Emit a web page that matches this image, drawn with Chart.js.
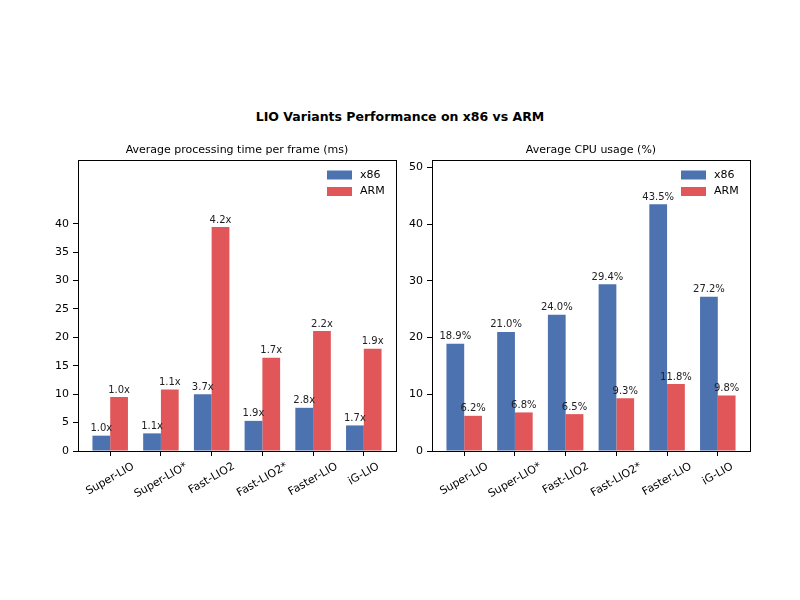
<!DOCTYPE html>
<html>
<head>
<meta charset="utf-8">
<script src="https://cdn.jsdelivr.net/npm/chart.js@4.4.1/dist/chart.umd.min.js"></script>
<style>
  body { margin: 0; background: #fff; }
  #wrap { position: relative; width: 800px; height: 600px; font-family: 'DejaVu Sans', sans-serif; }
  #mainTitle { position: absolute; left: 0; top: 109px; width: 800px; text-align: center; font-weight: bold; font-size: 12.5px; color: #000; }
  #left { position: absolute; left: 0; top: 0; }
  #right { position: absolute; left: 405px; top: 0; }
</style>
</head>
<body>
<div id="wrap">
  <div id="mainTitle">LIO Variants Performance on x86 vs ARM</div>
  <canvas id="left" width="405" height="600"></canvas>
  <canvas id="right" width="395" height="600"></canvas>
</div>
<script>
// categories
var variants = ['Super-LIO', 'Super-LIO*', 'Fast-LIO2', 'Fast-LIO2*', 'Faster-LIO', 'iG-LIO'];

// processing time per frame (ms)
var timeX86 = [2.7, 3.1, 10.0, 5.3, 7.6, 4.5];
var timeArm = [9.5, 10.8, 39.4, 16.4, 21.1, 18.0];
var timeX86Labels = ['1.0x', '1.1x', '3.7x', '1.9x', '2.8x', '1.7x'];
var timeArmLabels = ['1.0x', '1.1x', '4.2x', '1.7x', '2.2x', '1.9x'];

// cpu usage (%)
var cpuX86 = [18.9, 21.0, 24.0, 29.4, 43.5, 27.2];
var cpuArm = [6.2, 6.8, 6.5, 9.3, 11.8, 9.8];

var timeTicks = [0, 5, 10, 15, 20, 25, 30, 35, 40];
var cpuTicks = [0, 10, 20, 30, 40, 50];

var blue = '#4C72B0';
var red = '#E15759';
var font = "'DejaVu Sans', sans-serif";

// frame, subplot title, legend, bar labels and the rotated category names
var extras = {
    id: 'extras',
    afterDatasetsDraw: function(chart, args, opts) {
        var c = chart.ctx, a = chart.chartArea;
        c.save();
        // bar labels
        c.fillStyle = '#222';
        c.font = '10px ' + font;
        c.textAlign = 'center';
        c.textBaseline = 'bottom';
        chart.data.datasets.forEach(function(ds, i) {
            chart.getDatasetMeta(i).data.forEach(function(bar, j) {
                c.fillText(opts.labels[i][j], bar.x, bar.y - 2);
            });
        });
        // frame
        c.strokeStyle = '#000';
        c.lineWidth = 1;
        c.strokeRect(Math.round(a.left) + 0.5, Math.round(a.top) + 0.5,
            Math.round(a.right - a.left), Math.round(a.bottom - a.top));
        // subplot title
        c.fillStyle = '#000';
        c.font = '11px ' + font;
        c.textBaseline = 'alphabetic';
        c.fillText(opts.title, (a.left + a.right) / 2, a.top - 7);
        // x labels, rotated 30deg and centred under the tick (like matplotlib)
        var ang = Math.PI / 6, h = 13;
        c.textBaseline = 'middle';
        variants.forEach(function(name, i) {
            var w = c.measureText(name).width;
            var bh = w * Math.sin(ang) + h * Math.cos(ang);
            var x = chart.scales.x.getPixelForValue(i);
            c.save();
            c.translate(x, a.bottom + 9 + bh / 2);
            c.rotate(-ang);
            c.fillText(name, 0, 0);
            c.restore();
        });
        // legend
        c.textAlign = 'left';
        c.textBaseline = 'middle';
        chart.data.datasets.forEach(function(ds, i) {
            var y = a.top + 15 + i * 16.5;
            c.fillStyle = ds.backgroundColor;
            c.fillRect(a.right - 69, y - 4.5, 25, 9);
            c.fillStyle = '#000';
            c.fillText(ds.label, a.right - 36, y);
        });
        c.restore();
    }
};

function makeChart(id, x86, arm, labels, ticks, ymax, title, pad, yWidth) {
    var ctx = document.getElementById(id).getContext('2d');
    return new Chart(ctx, {
        type: 'bar',
        data: {
            datasets: [{
                label: 'x86',
                data: x86.map(function(v, i) { return {x: i, y: v}; }),
                backgroundColor: blue
            }, {
                label: 'ARM',
                data: arm.map(function(v, i) { return {x: i, y: v}; }),
                backgroundColor: red
            }]
        },
        plugins: [extras],
        options: {
            responsive: false,
            animation: false,
            categoryPercentage: 0.7,
            barPercentage: 1.0,
            layout: { padding: pad },
            plugins: {
                legend: { display: false },
                title: { display: false },
                tooltip: { enabled: false },
                extras: { labels: labels, title: title }
            },
            scales: {
                x: {
                    type: 'linear',
                    min: -0.635,
                    max: 5.635,
                    offset: false,
                    afterBuildTicks: function(s) {
                        s.ticks = variants.map(function(v, i) { return {value: i}; });
                    },
                    afterFit: function(s) { s.height = 80; },
                    grid: { display: true, drawOnChartArea: false, offset: false, tickLength: 5, color: '#000' },
                    border: { display: false },
                    ticks: { display: false }
                },
                y: {
                    min: 0,
                    max: ymax,
                    afterBuildTicks: function(s) {
                        s.ticks = ticks.map(function(v) { return {value: v}; });
                    },
                    afterFit: function(s) { s.width = yWidth; },
                    grid: { display: true, drawOnChartArea: false, tickLength: 5, color: '#000' },
                    border: { display: false },
                    ticks: {
                        padding: 4,
                        color: '#000',
                        font: { family: font, size: 11 }
                    }
                }
            }
        }
    });
}

var timeChart = makeChart('left', timeX86, timeArm, [timeX86Labels, timeArmLabels],
    timeTicks, 51.2, 'Average processing time per frame (ms)',
    {left: 0, right: 9, top: 160, bottom: 69}, 78);

var cpuChart = makeChart('right', cpuX86, cpuArm,
    [cpuX86.map(function(v) { return v.toFixed(1) + '%'; }), cpuArm.map(function(v) { return v.toFixed(1) + '%'; })],
    cpuTicks, 51.3, 'Average CPU usage (%)',
    {left: 0, right: 50, top: 160, bottom: 69}, 27);
</script>
</body>
</html>
